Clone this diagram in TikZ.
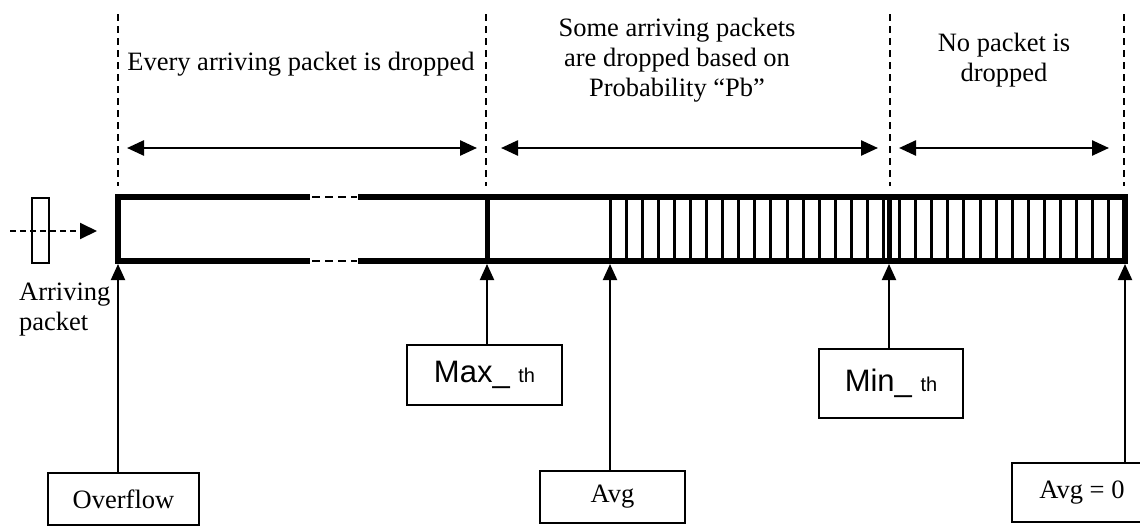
\documentclass[tikz,border=0pt]{standalone}
\usepackage{fontspec}
\setmainfont{Liberation Serif}
\newfontfamily\arialfont{Liberation Sans}
\usetikzlibrary{arrows.meta,%
		positioning}

\tikzset{
  zone/.style={line width=2pt,dash pattern=on 7pt off 5pt},
  span/.style={line width=2.5pt,{Triangle[length=17pt,width=15pt]}-{Triangle[length=17pt,width=15pt]}},
  pointer/.style={line width=2pt,-{Triangle[length=16pt,width=14pt]}},
  feed/.style={line width=2pt,dash pattern=on 6pt off 4pt,-{Triangle[length=17pt,width=16pt]}},
  qedge/.style={line width=6.5pt},
  gapline/.style={line width=2.5pt,dash pattern=on 8pt off 5pt},
  slot/.style={line width=3pt},
  sep/.style={line width=5pt},
  valbox/.style={draw,line width=2pt,inner sep=0pt,outer sep=0pt},
  txt/.style={font=\fontsize{26.5}{30}\selectfont,inner sep=0pt,align=center}
}

\begin{document}
\begin{tikzpicture}[x=1pt,y=-1pt]

  \clip (0,0) rectangle (1140,525);

  \draw[zone] (118,14) -- (118,186);
  \draw[zone] (486,14) -- (486,186);
  \draw[zone] (890,14) -- (890,186);
  \draw[zone] (1124,14) -- (1124,186);

  \node[txt,anchor=base] (every) at (301,70) {Every arriving packet is dropped};
  \node[txt,anchor=base] (some) at (677,96) {Some arriving packets\\are dropped based on\\Probability “Pb”};
  \node[txt,anchor=base] (nodrop) at (1004,81) {No packet is\\dropped};

  \coordinate (a1) at (127,148);
  \coordinate (b1) at (477,148);
  \coordinate (a2) at (501,148);
  \coordinate (b2) at (878,148);
  \coordinate (a3) at (899,148);
  \coordinate (b3) at (1109,148);
  \draw[span] (a1) -- (b1);
  \draw[span] (a2) -- (b2);
  \draw[span] (a3) -- (b3);

  \draw[qedge] (310,197) -- (118,197) -- (118,261) -- (310,261);
  \draw[qedge] (358,197) -- (1125,197) -- (1125,261) -- (358,261);
  \draw[gapline] (312,197) -- (357,197);
  \draw[gapline] (312,261) -- (357,261);
  \foreach \k in {0,...,31}
    \draw[slot] ({610+16.09*\k},197) -- ({610+16.09*\k},261);
  \draw[sep] (487,197) -- (487,261);
  \draw[sep] (889,197) -- (889,261);

  \node[draw,line width=1.5pt,minimum width=17pt,minimum height=65pt,inner sep=0pt] (pkt) at (40.5,230.5) {};
  \coordinate (src) at (10,231);
  \coordinate (entry) at (97,231);
  \draw[feed] (src) -- (entry);

  \node[txt,anchor=base west,align=left] (arr) at (19,330) {Arriving\\packet};

  \coordinate (qL) at (118,264);
  \coordinate (qMax) at (487,264);
  \coordinate (qAvg) at (610,264);
  \coordinate (qMin) at (889,264);
  \coordinate (qR) at (1125,264);

  \node[valbox,txt,minimum width=151pt,minimum height=52pt] (ovf) at (123.5,499) {Overflow};
  \node[valbox,minimum width=155pt,minimum height=60pt] (maxth) at (484.5,375)
    {\arialfont\fontsize{31}{36}\selectfont Max\_ {\fontsize{20}{24}\selectfont th}};
  \node[valbox,txt,minimum width=145pt,minimum height=52pt] (avg) at (612.5,497) {Avg};
  \node[valbox,minimum width=144pt,minimum height=69pt] (minth) at (891,383.5)
    {\arialfont\fontsize{31}{36}\selectfont Min\_ {\fontsize{20}{24}\selectfont th}};
  \node[valbox,txt,minimum width=140pt,minimum height=59pt] (avgz) at (1082,492.5) {Avg = 0};

  \draw[pointer] (qL |- ovf.north) -- (qL);
  \draw[pointer] (qMax |- maxth.north) -- (qMax);
  \draw[pointer] (qAvg |- avg.north) -- (qAvg);
  \draw[pointer] (qMin |- minth.north) -- (qMin);
  \draw[pointer] (qR |- avgz.north) -- (qR);

\end{tikzpicture}
\end{document}
